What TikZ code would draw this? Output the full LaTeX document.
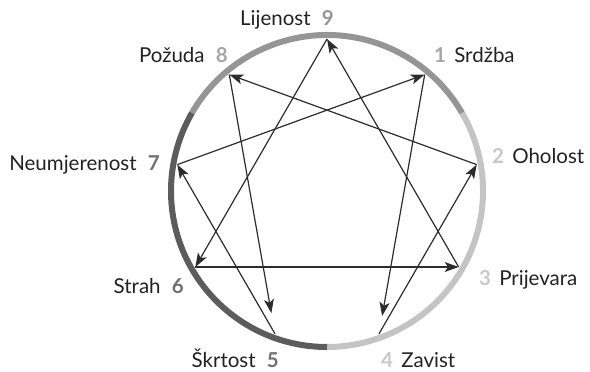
\documentclass[tikz,border=0pt]{standalone}
\usepackage{fontspec}
\setmainfont{Lato}
\usetikzlibrary{calc,arrows.meta}
\definecolor{gutGray}{HTML}{959595}
\definecolor{heartGray}{HTML}{C4C4C4}
\definecolor{headGray}{HTML}{5C5C5C}
\definecolor{numGut}{HTML}{A6A6A6}
\definecolor{numHeart}{HTML}{C8C8C8}
\definecolor{numHead}{HTML}{707070}
\definecolor{lineGray}{HTML}{2C2C2C}
\definecolor{textBlack}{HTML}{222222}
\newcommand{\eNum}[2]{\textcolor{#1}{\bfseries #2}}

\begin{document}
\begin{tikzpicture}[x=1pt,y=-1pt,
  ring/.style={line width=6pt},
  link/.style={draw=lineGray, line width=1.2pt, -{Stealth[length=14pt,width=10pt,inset=3.5pt]}},
  lbl/.style={inner sep=0pt, text=textBlack, font=\fontsize{20.5}{24}\selectfont}]
\useasboundingbox (0,0) rectangle (590,372);
\coordinate (c) at (327,191);
\foreach \k in {1,...,9}
  \coordinate (p\k) at ($(c)+({40*\k-90}:152)$);
% ring
\draw[ring, gutGray] ($(c)+(-150:156)$) arc[start angle=-150, end angle=-30, radius=156];
\draw[ring, heartGray] ($(c)+(-30:156)$) arc[start angle=-30, end angle=90, radius=156];
\draw[ring, headGray] ($(c)+(90:156)$) arc[start angle=90, end angle=210, radius=156];
% labels
\node[lbl, anchor=base east] (l9) at (334,26) {Lijenost\hspace{0.55em}\eNum{gutGray}{9}};
\node[lbl, anchor=base east] (l8) at (228,63) {Požuda\hspace{0.55em}\eNum{numGut}{8}};
\node[lbl, anchor=base west] (l1) at (434,63) {\eNum{numGut}{1}\hspace{0.4em}Srdžba};
\node[lbl, anchor=base west] (l2) at (492,163) {\eNum{numHeart}{2}\hspace{0.4em}Oholost};
\node[lbl, anchor=base west] (l3) at (479,285) {\eNum{numHeart}{3}\hspace{0.4em}Prijevara};
\node[lbl, anchor=base west] (l4) at (381,367) {\eNum{numHeart}{4}\hspace{0.4em}Zavist};
\node[lbl, anchor=base east] (l5) at (279,367) {Škrtost\hspace{0.55em}\eNum{numHead}{5}};
\node[lbl, anchor=base east] (l6) at (184,293) {Strah\hspace{0.55em}\eNum{numHead}{6}};
\node[lbl, anchor=base east] (l7) at (160,170) {Neumjerenost\hspace{0.55em}\eNum{numHead}{7}};
% arrows
\draw[link, shorten >=18pt] (p1) -- (p4);
\draw[link] (p4) -- (p2);
\draw[link] (p2) -- (p8);
\draw[link, shorten >=21pt] (p8) -- (p5);
\draw[link] (p5) -- (p7);
\draw[link] (p7) -- (p1);
\draw[link] (p3) -- (p9);
\draw[link] (p9) -- (p6);
\draw[link] (p6) -- (p3);
\end{tikzpicture}
\end{document}
